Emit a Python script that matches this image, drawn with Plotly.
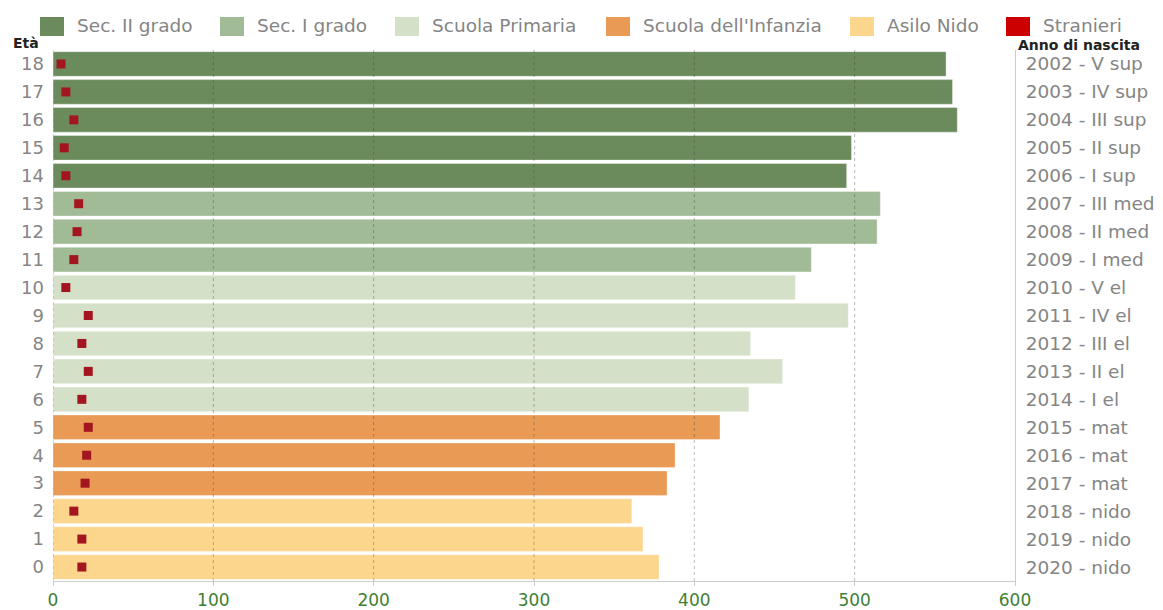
import plotly.graph_objects as go

ages = list(range(0, 19))
totals = [378, 368, 361, 383, 388, 416, 434, 455, 435, 496, 463, 473, 514, 516, 495, 498, 564, 561, 557]
foreign = [18, 18, 13, 20, 21, 22, 18, 22, 18, 22, 8, 13, 15, 16, 8, 7, 13, 8, 5]
right_labels = ["2020 - nido", "2019 - nido", "2018 - nido", "2017 - mat", "2016 - mat", "2015 - mat",
                "2014 - I el", "2013 - II el", "2012 - III el", "2011 - IV el", "2010 - V el",
                "2009 - I med", "2008 - II med", "2007 - III med", "2006 - I sup", "2005 - II sup",
                "2004 - III sup", "2003 - IV sup", "2002 - V sup"]
groups = [
    ("Sec. II grado", [14, 15, 16, 17, 18], "#6b8b5d"),
    ("Sec. I grado", [11, 12, 13], "#a1bb96"),
    ("Scuola Primaria", [6, 7, 8, 9, 10], "#d4e0c7"),
    ("Scuola dell'Infanzia", [3, 4, 5], "#e99a55"),
    ("Asilo Nido", [0, 1, 2], "#fdd68d"),
]
foreign_name = "Stranieri"
foreign_legend_color = "#cc0000"
foreign_color = "#a3161f"
x_ticks = [0, 100, 200, 300, 400, 500, 600]
grid_vals = [100, 200, 300, 400, 500]

FONT = "DejaVu Sans, Verdana, sans-serif"
GREY = "#858585"

# plot-area geometry (pixels) used for placing legend / titles
PL, PR, PT, PB = 53, 1015, 50, 581
def px_x(px):
    return (px - PL) / (PR - PL)
def px_y(py):
    return (PB - py) / (PB - PT)

fig = go.Figure()
for name, idx, col in groups:
    fig.add_trace(go.Bar(
        y=[ages[i] for i in idx], x=[totals[i] for i in idx], orientation="h",
        name=name, marker=dict(color=col, line=dict(color="rgba(255,255,255,0.35)", width=1)),
        width=0.88, hoverinfo="x+y", showlegend=False))
fig.add_trace(go.Scatter(
    y=ages, x=foreign, mode="markers", name=foreign_name, showlegend=False,
    marker=dict(symbol="square", size=9, color=foreign_color),
))
# invisible trace for right axis
fig.add_trace(go.Scatter(y=ages, x=[0]*len(ages), yaxis="y2", mode="markers",
                         marker=dict(opacity=0), showlegend=False, hoverinfo="skip"))

shapes = []
for g in grid_vals:
    shapes.append(dict(type="line", x0=g, x1=g, y0=0, y1=1, xref="x", yref="paper",
                       line=dict(color="rgba(60,60,60,0.35)", width=1, dash="dot"), layer="above"))
shapes.append(dict(type="line", x0=0, x1=0, y0=0, y1=1, xref="x", yref="paper",
                   line=dict(color="#aaaaaa", width=1, dash="dot"), layer="above"))

# legend row (swatch left edges in pixels)
legend_items = [(n, c) for n, _, c in groups] + [(foreign_name, foreign_legend_color)]
swatch_left = [40, 220, 395, 606, 850, 1006]
annotations = []
for (name, col), sx in zip(legend_items, swatch_left):
    shapes.append(dict(type="rect", xref="paper", yref="paper",
                       x0=px_x(sx), x1=px_x(sx + 24), y0=px_y(36), y1=px_y(17),
                       fillcolor=col, line=dict(width=0), layer="above"))
    annotations.append(dict(text=name, x=px_x(sx + 35), y=px_y(26), xref="paper", yref="paper",
                            showarrow=False, xanchor="left", yanchor="middle",
                            font=dict(size=18.5, color=GREY, family=FONT)))
annotations.append(dict(text="<b>Età</b>", x=px_x(11), y=px_y(43), xref="paper", yref="paper",
                        showarrow=False, xanchor="left", yanchor="middle",
                        font=dict(size=14, color="#222222", family=FONT)))
annotations.append(dict(text="<b>Anno di nascita</b>", x=px_x(1016), y=px_y(45),
                        xref="paper", yref="paper", showarrow=False, xanchor="left", yanchor="middle",
                        font=dict(size=14, color="#222222", family=FONT)))

fig.update_layout(
    width=1163, height=610,
    margin=dict(l=PL, r=1163 - PR, t=PT, b=610 - PB, autoexpand=False),
    paper_bgcolor="white", plot_bgcolor="white",
    font=dict(family=FONT, size=18, color=GREY),
    barmode="overlay",
    showlegend=False,
    xaxis=dict(range=[0, 600], tickvals=x_ticks, showgrid=False, zeroline=False,
               showline=True, linecolor="#cccccc", linewidth=1, automargin=False,
               ticks="outside", ticklen=4, tickcolor="#cccccc",
               tickfont=dict(size=17, color="#3f7f35"), fixedrange=True),
    yaxis=dict(range=[-0.5, 18.5], tickvals=ages, ticktext=[str(a) for a in ages],
               showgrid=False, zeroline=False, showline=False, automargin=False,
               ticks="", tickfont=dict(size=18, color=GREY), ticklabelstandoff=8),
    yaxis2=dict(range=[-0.5, 18.5], overlaying="y", side="right", tickvals=ages,
                ticktext=right_labels, showgrid=False, zeroline=False, automargin=False,
                showline=True, linecolor="#cccccc", linewidth=1, ticks="",
                tickfont=dict(size=18.5, color=GREY), ticklabelstandoff=6),
    shapes=shapes,
    annotations=annotations,
)

fig.write_html("out.html")
